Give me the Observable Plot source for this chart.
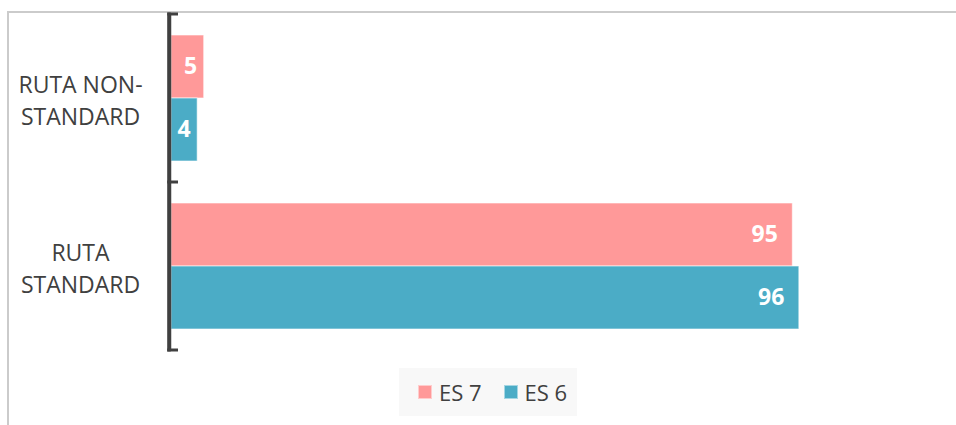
<!DOCTYPE html>
<html>
<head>
<meta charset="utf-8">
<script src="https://cdn.jsdelivr.net/npm/d3@7"></script>
<script src="https://cdn.jsdelivr.net/npm/@observablehq/plot@0.6"></script>
<style>
  html, body { margin: 0; padding: 0; background: #fff; }
  body { width: 956px; height: 425px; position: relative; overflow: hidden; font-family: "Open Sans", sans-serif; }
  #frame { position: absolute; left: 7px; top: 11px; width: 960px; height: 420px; border-top: 2px solid #cbcbcb; border-left: 2px solid #cbcbcb; }
  #chart { position: absolute; left: 0; top: 0; }
  #legend { position: absolute; left: 399px; top: 368px; width: 178px; height: 48px; background: #f8f8f8;
            display: flex; align-items: center; box-sizing: border-box; padding-left: 19px; color: #404040; font-size: 22px; }
  .sw { width: 14px; height: 14px; display: inline-block; box-sizing: border-box; border: 1px solid rgba(255,255,255,0.5); }
  .item { display: flex; align-items: center; }
  .item span.lbl { margin-left: 7px; }
</style>
</head>
<body>
<div id="frame"></div>
<div id="chart"></div>
<div id="legend"></div>
<script>
const categories = ["RUTA NON-STANDARD", "RUTA STANDARD"];
const categoryLabels = ["RUTA NON-\nSTANDARD", "RUTA\nSTANDARD"];
const seriesNames = ["ES 7", "ES 6"];
const es7 = [5, 95];
const es6 = [4, 96];
const seriesColors = ["#FF9999", "#4BACC6"];

const data = categories.flatMap((c, i) => [
  {cat: c, series: seriesNames[0], value: es7[i]},
  {cat: c, series: seriesNames[1], value: es6[i]}
]);

const textColor = "#404040";
const fontSize = 23;

const plot = Plot.plot({
  width: 956,
  height: 360,
  marginLeft: 171,
  marginRight: 131,
  marginTop: 14,
  marginBottom: 10,
  style: {fontFamily: "'Open Sans', sans-serif", background: "transparent"},
  x: {domain: [0, 100], axis: null},
  y: {domain: seriesNames, axis: null, paddingInner: 0, paddingOuter: 0.32},
  fy: {domain: categories, axis: null, padding: 0},
  color: {domain: seriesNames, range: seriesColors},
  marks: [
    Plot.barX(data, {x: "value", y: "series", fy: "cat", fill: "series", stroke: "white", strokeOpacity: 0.6, strokeWidth: 1}),
    Plot.text(data.filter(d => d.value >= 10), {x: "value", y: "series", fy: "cat", text: d => String(d.value),
      textAnchor: "end", dx: -15, fill: "white", fontWeight: "bold", fontSize: fontSize}),
    Plot.text(data.filter(d => d.value < 10), {x: "value", y: "series", fy: "cat", text: d => String(d.value),
      textAnchor: "end", dx: -7, fill: "white", fontWeight: "bold", fontSize: fontSize}),
    Plot.text(categories, {fy: d => d, text: (d, i) => categoryLabels[i], frameAnchor: "left", dx: -91,
      textAnchor: "middle", lineHeight: 1.4, fontSize: fontSize, fill: textColor}),
    Plot.ruleX([0], {stroke: textColor, strokeWidth: 3.5, dx: -2})
  ]
});

// category separator tick marks at band boundaries
const fy = plot.scale("fy");
const xs = plot.scale("x");
const x0 = xs.apply(0);
const bounds = new Set();
for (const c of categories) {
  const top = fy.apply(c);
  bounds.add(top);
  bounds.add(top + fy.bandwidth);
}
const g = d3.select(plot).append("g").attr("stroke", textColor).attr("stroke-width", 3);
for (const b of bounds) {
  g.append("line").attr("x1", x0 - 3.75).attr("x2", x0 + 7).attr("y1", b).attr("y2", b);
}
d3.select(plot).append("line").attr("stroke", textColor).attr("stroke-width", 3.5)
  .attr("x1", x0 - 2).attr("x2", x0 - 2).attr("y1", d3.min(bounds) - 1.5).attr("y2", d3.max(bounds) + 1.5);

document.getElementById("chart").appendChild(plot);

const legend = d3.select("#legend");
seriesNames.forEach((s, i) => {
  const item = legend.append("div").attr("class", "item").style("margin-right", i === 0 ? "22px" : "0");
  item.append("span").attr("class", "sw").style("background", seriesColors[i]);
  item.append("span").attr("class", "lbl").text(s);
});
</script>
</body>
</html>
